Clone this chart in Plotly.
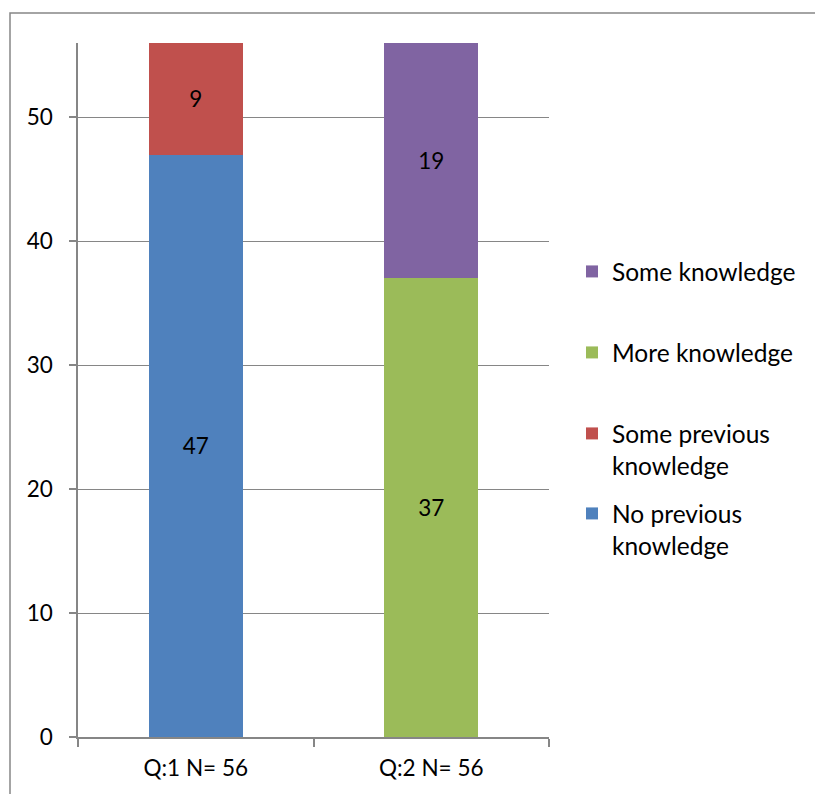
import plotly.graph_objects as go

categories = ["Q:1 N= 56", "Q:2 N= 56"]
series_names = ["No previous knowledge", "Some previous knowledge", "More knowledge", "Some knowledge"]
legend_labels = ["No previous<br>knowledge", "Some previous<br>knowledge", "More knowledge", "Some knowledge"]
no_previous = [47, None]
some_previous = [9, None]
more_knowledge = [None, 37]
some_knowledge = [None, 19]
colors = ["#4F81BD", "#C0504D", "#9BBB59", "#8064A2"]
y_ticks = [0, 10, 20, 30, 40, 50]

FONT = "Lato"
FS = 22.5
LFS = 24.5
W, H = 815, 794
L, R, T, B = 78, 549, 43, 737

def px_x(p):
    return (p - L) / (R - L)

def px_y(p):
    return (B - p) / (B - T)

fig = go.Figure()
values = [no_previous, some_previous, more_knowledge, some_knowledge]
legend_ids = ["legend4", "legend3", "legend2", "legend"]
for name, lab, vals, col, lid in zip(series_names, legend_labels, values, colors, legend_ids):
    fig.add_trace(go.Bar(
        x=categories, y=vals, name=lab, marker=dict(color=col, line=dict(width=0)),
        width=0.4, text=[str(v) if v is not None else "" for v in vals],
        textposition="inside", insidetextanchor="middle",
        textfont=dict(color="black", size=FS, family=FONT),
        legend=lid, hoverinfo="name+y",
    ))

leg_common = dict(xanchor="left", yanchor="top", bgcolor="rgba(0,0,0,0)",
                  font=dict(family=FONT, size=LFS, color="black"), valign="top",
                  itemclick=False)
legend_tops = [249, 330, 411, 491]
lx = px_x(572)
fig.update_layout(
    legend=dict(x=lx, y=px_y(legend_tops[0]), **leg_common),
    legend2=dict(x=lx, y=px_y(legend_tops[1]), **leg_common),
    legend3=dict(x=lx, y=px_y(legend_tops[2]), **leg_common),
    legend4=dict(x=lx, y=px_y(legend_tops[3]), **leg_common),
)

fig.update_layout(
    barmode="stack",
    width=W, height=H,
    margin=dict(l=L, r=W - R, t=T, b=H - B, pad=0),
    paper_bgcolor="white", plot_bgcolor="white",
    font=dict(family=FONT, size=FS, color="black"),
    showlegend=True,
    xaxis=dict(range=[-0.5, 1.5], showline=True, linecolor="#868686", linewidth=1.5,
               ticks="outside", tickson="boundaries", ticklen=8, tickcolor="#868686",
               tickwidth=1.5, showgrid=False, zeroline=False, ticklabelstandoff=10,
               tickfont=dict(family=FONT, size=FS, color="black")),
    yaxis=dict(range=[0, 56], tickvals=y_ticks, showline=True, linecolor="#868686",
               linewidth=1.5, ticks="outside", ticklen=7, tickcolor="#868686", tickwidth=1.5,
               showgrid=True, gridcolor="#868686", gridwidth=1, zeroline=False,
               ticklabelstandoff=12, tickfont=dict(family=FONT, size=FS, color="black")),
    shapes=[dict(type="rect", xref="paper", yref="paper",
                 x0=px_x(10), x1=px_x(830), y0=px_y(810), y1=px_y(13),
                 line=dict(color="#868686", width=1.5), fillcolor="rgba(0,0,0,0)", layer="below")],
)

fig.write_html("out.html")
